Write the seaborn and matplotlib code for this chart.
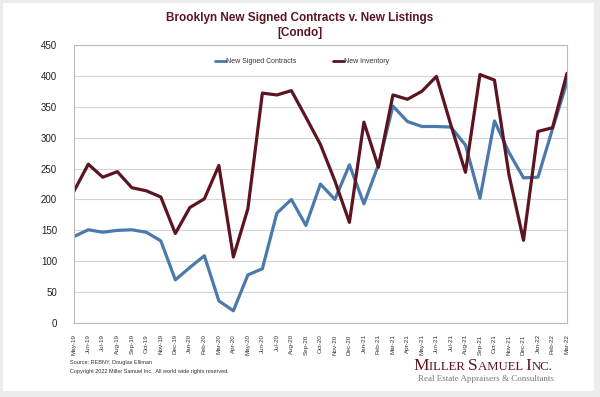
import numpy as np
import pandas as pd
import matplotlib
matplotlib.use("Agg")
import matplotlib.pyplot as plt
import seaborn as sns
from matplotlib.patches import Rectangle
from matplotlib.offsetbox import TextArea, HPacker, AnchoredOffsetbox

months = ["May-19", "Jun-19", "Jul-19", "Aug-19", "Sep-19", "Oct-19", "Nov-19", "Dec-19",
          "Jan-20", "Feb-20", "Mar-20", "Apr-20", "May-20", "Jun-20", "Jul-20", "Aug-20",
          "Sep-20", "Oct-20", "Nov-20", "Dec-20", "Jan-21", "Feb-21", "Mar-21", "Apr-21",
          "May-21", "Jun-21", "Jul-21", "Aug-21", "Sep-21", "Oct-21", "Nov-21", "Dec-21",
          "Jan-22", "Feb-22", "Mar-22"]

contracts = [140, 151, 147, 150, 151, 147, 133, 70, 90, 109, 36, 20, 78, 88, 178, 200,
             158, 225, 200, 256, 193, 256, 351, 326, 318, 318, 317, 288, 202, 327, 276, 235,
             236, 314, 390]

inventory = [213, 257, 236, 245, 219, 214, 204, 145, 187, 201, 255, 107, 185, 372, 369, 376,
             333, 289, 230, 163, 325, 252, 369, 362, 375, 399, 320, 244, 402, 393, 240, 134,
             310, 316, 404]

series_names = ["New Signed Contracts", "New Inventory"]
colors = ["#4a7aab", "#5c1421"]
maroon = "#5c1421"

df = pd.DataFrame({
    "idx": list(range(len(months))) * 2,
    "value": contracts + inventory,
    "series": [series_names[0]] * len(months) + [series_names[1]] * len(months),
})

sns.set_theme(style="whitegrid")
plt.rcParams["font.family"] = ["Liberation Sans", "DejaVu Sans"]

fig = plt.figure(figsize=(6, 3.97), dpi=100, facecolor="#ececec")
fig.patches.append(Rectangle((0.005, 0.015), 0.985, 0.977, transform=fig.transFigure,
                             facecolor="white", edgecolor="none", zorder=-1))

ax = fig.add_axes([0.123, 0.186, 0.822, 0.701])
sns.lineplot(data=df, x="idx", y="value", hue="series", palette=colors,
             linewidth=2.3, ax=ax, legend=False)

ax.set_xlim(0, len(months) - 1)
ax.set_ylim(0, 450)
ax.set_yticks(range(0, 451, 50))
ax.set_xticks(range(len(months)))
ax.set_xticklabels(months, rotation=90, fontsize=4.5)
ax.tick_params(axis="y", labelsize=7, colors="#222222", pad=6)
ax.tick_params(axis="x", pad=2, colors="#333333")
ax.xaxis.grid(False)
ax.yaxis.grid(True, color="#d4d4d4", linewidth=0.8)
ax.set_xlabel("")
ax.set_ylabel("")
ax.set_facecolor("white")
for s in ax.spines.values():
    s.set_color("#bbbbbb")
    s.set_linewidth(0.8)

# legend drawn as plain entries, no frame
for name, col, x0 in zip(series_names, colors, [0.358, 0.555]):
    fig.add_artist(plt.Line2D([x0, x0 + 0.018], [0.846, 0.846],
                              color=col, linewidth=2.0, transform=fig.transFigure))
    fig.text(x0 + 0.018, 0.846, name, fontsize=5, va="center", ha="left", color="#333333")

fig.text(0.5, 0.955, "Brooklyn New Signed Contracts v. New Listings", ha="center",
         va="center", fontsize=8.5, fontweight="bold", color=maroon)
fig.text(0.5, 0.918, "[Condo]", ha="center", va="center", fontsize=8.5,
         fontweight="bold", color=maroon)

fig.text(0.117, 0.088, "Source: REBNY, Douglas Elliman", fontsize=4, color="#333333",
         va="center")
fig.text(0.117, 0.065, "Copyright 2022 Miller Samuel Inc.  All world wide rights reserved.",
         fontsize=4, color="#333333", va="center")

# logo in small caps
serif = "Liberation Serif"
parts = [("M", 12.5), ("ILLER ", 9.2), ("S", 12.5), ("AMUEL ", 9.2), ("I", 12.5), ("NC.", 9.2)]
boxes = [TextArea(t, textprops=dict(fontsize=s, color=maroon, family=serif)) for t, s in parts]
logo = HPacker(children=boxes, align="baseline", pad=0, sep=0)
ab = AnchoredOffsetbox(loc="center", child=logo, frameon=False, pad=0, borderpad=0,
                       bbox_to_anchor=(0.805, 0.078), bbox_transform=fig.transFigure)
fig.add_artist(ab)
fig.text(0.81, 0.045, "Real Estate Appraisers & Consultants", ha="center", va="center",
         fontsize=6.5, color="#777777", family=serif)

fig.savefig("out.png", dpi=100, facecolor=fig.get_facecolor())
